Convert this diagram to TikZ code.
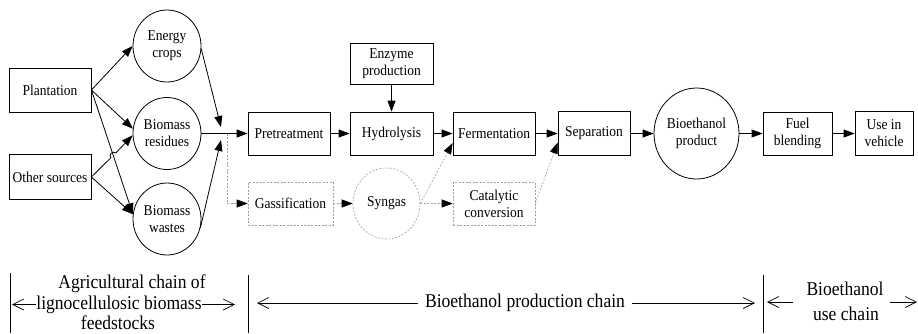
\documentclass[tikz,border=0pt]{standalone}
\usepackage{fontspec}
\setmainfont[FakeStretch=0.9]{Liberation Serif}
\usetikzlibrary{arrows.meta,shapes.geometric,calc}
\begin{document}
\begin{tikzpicture}[x=1pt,y=-1pt,
  box/.style={draw,line width=0.8pt,rectangle,inner sep=0pt,align=center,font=\fontsize{15}{17}\selectfont},
  circ/.style={draw,line width=0.8pt,ellipse,inner sep=0pt,align=center,font=\fontsize{15}{17}\selectfont,minimum width=68pt,minimum height=72pt},
  dbox/.style={box,draw=gray!75,dash pattern=on 2pt off 1.5pt,line width=0.6pt},
  dcirc/.style={circ,draw=gray!75,dash pattern=on 2pt off 1.5pt,line width=0.6pt},
  arr/.style={-{Triangle[length=11pt,width=8pt]},line width=0.8pt},
  darr/.style={-{Triangle[length=11pt,width=8pt,color=black]},draw=gray!75,dash pattern=on 2pt off 1.5pt,line width=0.6pt},
  lab/.style={font=\fontsize{19.5}{21}\selectfont,inner sep=0pt},
  barb/.style={-{Straight Barb[length=11pt,width=11pt]},line width=0.7pt},
  bar/.style={line width=0.8pt}
]
\useasboundingbox (0,0) rectangle (918,333);

% nodes
\node[box,minimum width=82pt,minimum height=44pt] (plant) at (50,90) {Plantation};
\node[box,minimum width=82pt,minimum height=45pt] (other) at (50,177) {Other sources};
\node[circ] (energy) at (167,46) {Energy\\crops};
\node[circ] (res) at (167,133.5) {Biomass\\residues};
\node[circ] (waste) at (167,219) {Biomass\\wastes};
\node[box,minimum width=82pt,minimum height=43pt] (pre) at (289,133.5) {Pretreatment};
\node[box,minimum width=83pt,minimum height=43pt] (hyd) at (391.5,133.5) {Hydrolysis};
\node[box,minimum width=83pt,minimum height=41pt] (enz) at (391.5,63.5) {Enzyme\\production};
\node[box,minimum width=82pt,minimum height=43pt] (fer) at (494,133.5) {Fermentation};
\node[box,minimum width=72pt,minimum height=44pt] (sep) at (594,133.5) {Separation};
\node[circ,minimum width=85pt,minimum height=91pt] (prod) at (696.5,133.5) {Bioethanol\\product};
\node[box,minimum width=69pt,minimum height=43pt] (fuel) at (797.5,133.5) {Fuel\\blending};
\node[box,minimum width=58pt,minimum height=44pt] (use) at (884,133.5) {Use in\\vehicle};
\node[dbox,minimum width=85pt,minimum height=43pt] (gas) at (290.5,203.5) {Gassification};
\node[dcirc,minimum width=67pt,minimum height=71pt] (syn) at (386.5,203.5) {Syngas};
\node[dbox,minimum width=82pt,minimum height=43pt] (cat) at (494,203.5) {Catalytic\\conversion};

% junction coordinates
\coordinate (jt) at (221,127);
\coordinate (jb) at (221,140);
\coordinate (jd) at (227,133.5);
\coordinate (jc) at (227,203.5);
\coordinate (h1) at (110.8,157.8);
\coordinate (h2) at (115.8,153);

% feedstock connectors
\draw[arr] (plant.east) -- (energy.west);
\draw[arr] (plant.east) -- (res.172);
\draw[arr] (plant.east) -- (waste.172);
\draw[arr] (other.east) -- (h1) .. controls (108,154.9) and (113,150.1) .. (h2) -- (res.183);
\draw[arr] (other.east) -- (waste.172);
\draw[arr] (energy.-5) -- (jt);
\draw[arr] (waste.-15) -- (jb);
\draw[arr] (res.east) -- (pre.west);

% main chain
\draw[arr] (enz) -- (hyd);
\draw[arr] (pre) -- (hyd);
\draw[arr] (hyd) -- (fer);
\draw[arr] (fer) -- (sep);
\draw[arr] (sep) -- (prod);
\draw[arr] (prod) -- (fuel);
\draw[arr] (fuel) -- (use);

% alternative (dashed) chain
\draw[darr] (jd) -- (jc) -- (gas.west);
\draw[darr] (gas) -- (syn);
\draw[darr] (syn) -- (cat);
\draw[darr] (syn.east) -- (fer.193);
\draw[darr] (cat.east) -- (sep.194);

% bottom bars
\draw[bar] (10,273) -- (10,333);
\draw[bar] (248,275) -- (248,333);
\draw[bar] (763,275) -- (763,333);

% bottom labels
\node[lab] (ag1) at (132,284) {Agricultural chain of};
\node[lab] (ag2) at (119,304.5) {lignocellulosic biomass};
\node[lab] (ag3) at (118,323) {feedstocks};
\coordinate (ll) at (12,304.5);
\coordinate (lr) at (235,304.5);
\draw[barb] (ag2.west) -- (ll);
\draw[barb] (ag2.east) -- (lr);

\node[lab,inner xsep=7pt] (mid) at (525,303) {Bioethanol production chain};
\coordinate (ml) at (257,303);
\coordinate (mr) at (755,303);
\draw[barb] (mid.west) -- (ml);
\draw[barb] (mid.east) -- (mr);

\node[lab] (rt1) at (845,289) {Bioethanol};
\node[lab] (rt2) at (846,314) {use chain};
\coordinate (rla) at (793,302);
\coordinate (rl) at (767,302);
\coordinate (rra) at (890,302);
\coordinate (rr) at (917,302);
\draw[barb] (rla) -- (rl);
\draw[barb] (rra) -- (rr);
\end{tikzpicture}
\end{document}
